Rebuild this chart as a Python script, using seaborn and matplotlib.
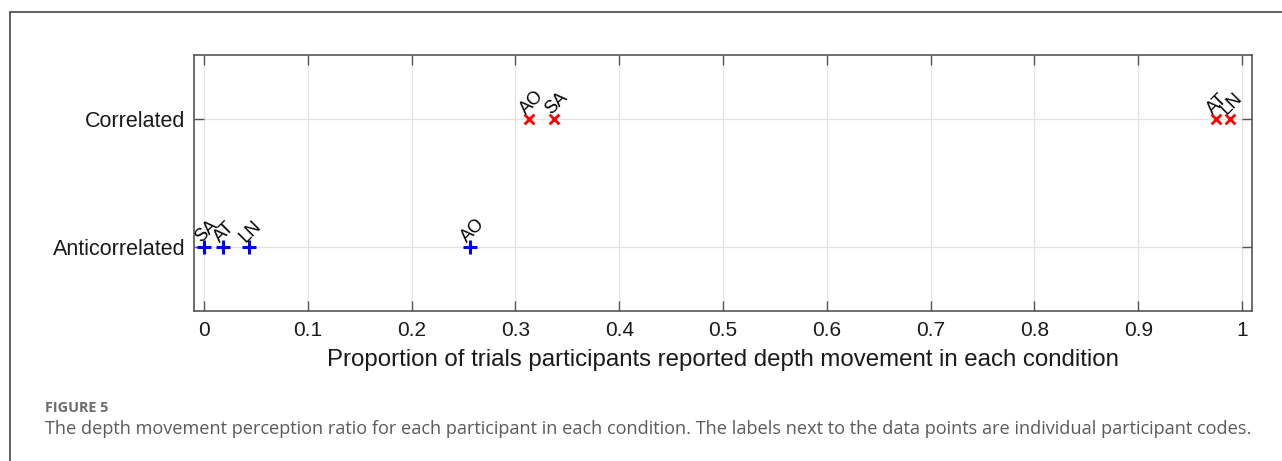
import matplotlib
matplotlib.use("Agg")
import matplotlib.pyplot as plt
from matplotlib.lines import Line2D
import numpy as np
import pandas as pd
import seaborn as sns

# Per-participant proportions of trials with reported depth movement
participants_anti = ["SA", "AT", "LN", "AO"]
proportion_anti = [0.0, 0.018, 0.043, 0.256]
participants_corr = ["AO", "SA", "AT", "LN"]
proportion_corr = [0.313, 0.337, 0.975, 0.988]

conditions = ["Anticorrelated", "Correlated"]
xticks = [0, 0.1, 0.2, 0.3, 0.4, 0.5, 0.6, 0.7, 0.8, 0.9, 1]
xtick_labels = ["0", "0.1", "0.2", "0.3", "0.4", "0.5", "0.6", "0.7", "0.8", "0.9", "1"]

df = pd.DataFrame({
    "condition": ["Anticorrelated"] * len(proportion_anti) + ["Correlated"] * len(proportion_corr),
    "proportion": proportion_anti + proportion_corr,
    "participant": participants_anti + participants_corr,
})
df["ypos"] = df["condition"].map({c: i + 1 for i, c in enumerate(conditions)})

sns.set_theme(style="white")
plt.rcParams["font.family"] = ["Liberation Sans", "DejaVu Sans"]

fig = plt.figure(figsize=(12.82, 4.61), dpi=100)
ax = fig.add_axes([194 / 1282, 1 - 311 / 461, (1252 - 194) / 1282, (311 - 55) / 461])

sns.scatterplot(data=df[df["condition"] == "Anticorrelated"], x="proportion", y="ypos",
                marker="+", color="#0000ff", s=90, linewidth=2.2, ax=ax, zorder=3)
sns.scatterplot(data=df[df["condition"] == "Correlated"], x="proportion", y="ypos",
                marker="x", color="#ff0000", s=50, linewidth=2.0, ax=ax, zorder=3)

for _, row in df.iterrows():
    ax.annotate(row["participant"], (row["proportion"], row["ypos"]),
                xytext=(0.0, 1.0), textcoords="offset points",
                rotation=45, rotation_mode="anchor", ha="left", va="bottom",
                fontsize=13, color="black", zorder=4)

ax.set_xlim(-0.0096, 1.0096)
ax.set_ylim(0.5, 2.5)
ax.set_xticks(xticks)
ax.set_xticklabels(xtick_labels, fontsize=15)
ax.set_yticks([1, 2])
ax.set_yticklabels(conditions, fontsize=15.5)
ax.grid(True, color="#e3e3e3", linewidth=0.9)
ax.set_axisbelow(True)
ax.tick_params(axis="both", direction="in", length=7, width=1.0, color="#555555",
               top=True, right=True, bottom=True, left=True, pad=6, labelcolor="#1a1a1a")
ax.tick_params(axis="x", pad=7)
for s in ax.spines.values():
    s.set_color("#555555")
    s.set_linewidth(1.2)
    s.set_visible(True)
ax.set_xlabel("Proportion of trials participants reported depth movement in each condition",
              fontsize=17.3, color="#1a1a1a", labelpad=7)
ax.set_ylabel("")

# Outer figure frame
fx = 9.5 / 1282
fy = 1 - 12.5 / 461
fig.add_artist(Line2D([fx, fx], [0, fy], transform=fig.transFigure, color="#555555", lw=1.3))
fig.add_artist(Line2D([fx, 1.0], [fy, fy], transform=fig.transFigure, color="#555555", lw=1.3))

fig.text(45 / 1282, 1 - 408 / 461, "FIGURE 5", fontsize=10.4, fontweight="bold",
         color="#6b6b6b", family=["Open Sans", "DejaVu Sans"], va="center", ha="left")
fig.text(45 / 1282, 1 - 429 / 461,
         "The depth movement perception ratio for each participant in each condition. "
         "The labels next to the data points are individual participant codes.",
         fontsize=13.1, color="#5a5a5a", family=["Open Sans", "DejaVu Sans"], va="center", ha="left")

fig.savefig("out.png", dpi=100, facecolor="white")
